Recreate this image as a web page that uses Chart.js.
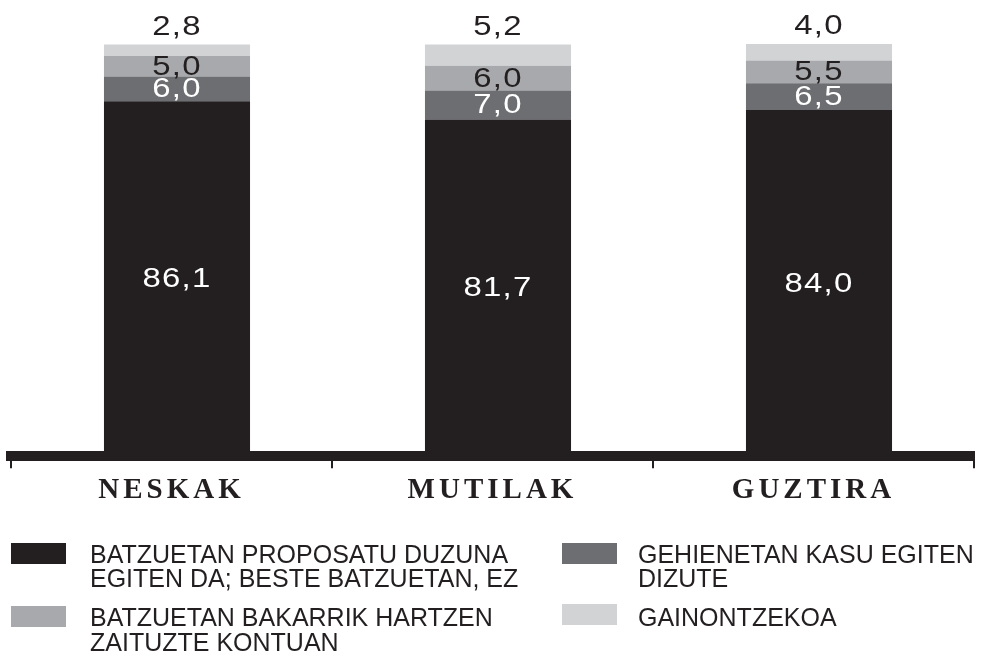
<!DOCTYPE html>
<html>
<head>
<meta charset="utf-8">
<script src="https://cdn.jsdelivr.net/npm/chart.js@4/dist/chart.umd.min.js"></script>
<style>
  html, body { margin: 0; padding: 0; background: #fff; }
  #wrap { position: relative; width: 983px; height: 653px; overflow: hidden; }
  #c { position: absolute; left: 0; top: 0; }
  .sw { position: absolute; width: 55px; height: 21px; }
  .lt { position: absolute; font-family: 'Liberation Sans', Arial, sans-serif; font-size: 25px; color: #231f20; white-space: nowrap; line-height: 24px; }
</style>
</head>
<body>
<div id="wrap">
  <canvas id="c" width="983" height="653"></canvas>
  <div id="legend"></div>
</div>
<script>
const categories = ['NESKAK', 'MUTILAK', 'GUZTIRA'];
const seriesNames = [
  ['BATZUETAN PROPOSATU DUZUNA', 'EGITEN DA; BESTE BATZUETAN, EZ'],
  ['GEHIENETAN KASU EGITEN', 'DIZUTE'],
  ['BATZUETAN BAKARRIK HARTZEN', 'ZAITUZTE KONTUAN'],
  ['GAINONTZEKOA']
];
const batzuetanProposatu = [86.1, 81.7, 84.0];
const gehienetanKasu = [6.0, 7.0, 6.5];
const batzuetanBakarrik = [5.0, 6.0, 5.5];
const gainontzekoa = [2.8, 5.2, 4.0];

const colors = ['#231f20', '#6d6e71', '#a7a9ac', '#d1d3d4'];
const labelColors = ['#ffffff', '#ffffff', '#231f20', '#231f20'];
const seriesValues = [batzuetanProposatu, gehienetanKasu, batzuetanBakarrik, gainontzekoa];

const legendLayout = [
  {s: 0, swL: 11, swT: 543, tL: 90, tT: 542, lh: 24},
  {s: 1, swL: 562, swT: 543, tL: 638, tT: 542, lh: 24},
  {s: 2, swL: 11, swT: 606, tL: 90, tT: 605, lh: 25},
  {s: 3, swL: 562, swT: 604, tL: 638, tT: 605, lh: 24}
];
const legend = document.getElementById('legend');
legendLayout.forEach(it => {
  const sw = document.createElement('div');
  sw.className = 'sw';
  sw.style.left = it.swL + 'px';
  sw.style.top = it.swT + 'px';
  sw.style.background = colors[it.s];
  legend.appendChild(sw);
  const t = document.createElement('div');
  t.className = 'lt';
  t.style.left = it.tL + 'px';
  t.style.top = it.tT + 'px';
  t.style.lineHeight = it.lh + 'px';
  t.innerHTML = seriesNames[it.s].join('<br>');
  legend.appendChild(t);
});

const fmt = v => v.toFixed(1).replace('.', ',');

const spacingPlugin = {
  id: 'spacing',
  beforeDraw(chart) { chart.ctx.letterSpacing = '4px'; },
  beforeDatasetsDraw(chart) { chart.ctx.letterSpacing = '0px'; }
};

// bars sit slightly right of the category centres in the reference
const barShiftPlugin = {
  id: 'barShift',
  afterLayout(chart) {
    const s = chart.scales.xb;
    if (!s) return;
    const shift = 5.5;
    s.left = chart.chartArea.left + shift;
    s.right = chart.chartArea.right + shift;
    s.width = s.right - s.left;
    s.configure();
  }
};

const labelPlugin = {
  id: 'vals',
  afterDatasetsDraw(chart) {
    const ctx = chart.ctx;
    const sx = 1.22;
    chart.data.datasets.forEach((ds, i) => {
      const meta = chart.getDatasetMeta(i);
      meta.data.forEach((bar, j) => {
        const v = ds.data[j];
        const y = (i === 3) ? bar.y - 17 : (bar.y + bar.base) / 2 + 1;
        ctx.save();
        ctx.letterSpacing = '1px';
        ctx.font = '27px "Liberation Sans", Arial, sans-serif';
        ctx.textAlign = 'center';
        ctx.textBaseline = 'middle';
        ctx.fillStyle = labelColors[i];
        ctx.translate(bar.x, y);
        ctx.scale(sx, 1);
        ctx.fillText(fmt(v), 0, 0);
        ctx.restore();
      });
    });
  }
};

new Chart(document.getElementById('c'), {
  type: 'bar',
  data: {
    labels: categories,
    datasets: seriesValues.map((vals, i) => ({
      label: seriesNames[i].join(' '),
      data: vals,
      xAxisID: 'xb',
      backgroundColor: colors[i],
      borderWidth: 0,
      categoryPercentage: 1.0,
      barPercentage: 0.455
    }))
  },
  options: {
    responsive: false,
    animation: false,
    layout: { padding: { left: 11, right: 9, top: 44, bottom: 140 } },
    plugins: { legend: { display: false }, tooltip: { enabled: false } },
    scales: {
      xb: {
        type: 'category',
        position: 'bottom',
        stacked: true,
        offset: true,
        display: false
      },
      x: {
        type: 'category',
        position: 'bottom',
        offset: true,
        border: { display: true, width: 10, color: '#231f20' },
        grid: { display: true, offset: true, drawOnChartArea: false, drawTicks: true, tickLength: 12, lineWidth: 2, color: '#231f20' },
        ticks: {
          color: '#231f20',
          padding: 5,
          maxRotation: 0,
          autoSkip: false,
          font: { family: '"Liberation Serif", "Times New Roman", serif', size: 29, weight: 'bold' }
        }
      },
      y: {
        stacked: true,
        display: false,
        min: 0,
        max: 100
      }
    }
  },
  plugins: [spacingPlugin, barShiftPlugin, labelPlugin]
});
</script>
</body>
</html>
